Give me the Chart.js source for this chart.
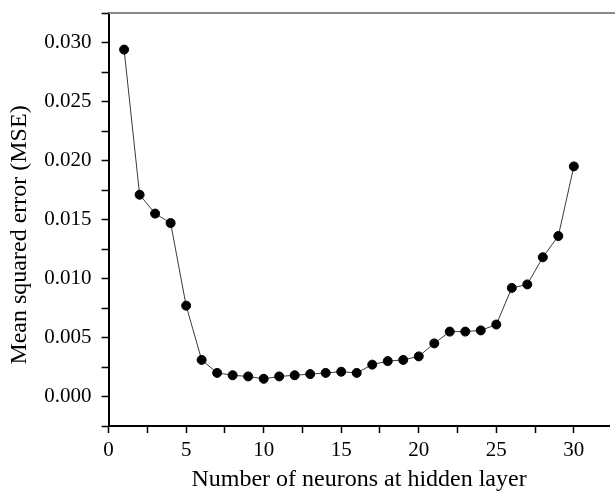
<!DOCTYPE html>
<html>
<head>
<meta charset="utf-8">
<script src="https://cdn.jsdelivr.net/npm/chart.js@4/dist/chart.umd.min.js"></script>
<style>
  html, body { margin: 0; padding: 0; background: #fff; }
  #wrap { width: 615px; height: 494px; }
</style>
</head>
<body>
<div id="wrap"><canvas id="c"></canvas></div>
<script>
// Network size vs. training error
const neurons = [1, 2, 3, 4, 5, 6, 7, 8, 9, 10, 11, 12, 13, 14, 15,
                 16, 17, 18, 19, 20, 21, 22, 23, 24, 25, 26, 27, 28, 29, 30];
const mse = [0.0294, 0.0171, 0.0155, 0.0147, 0.0077, 0.0031, 0.0020, 0.0018, 0.0017, 0.0015,
             0.0017, 0.0018, 0.0019, 0.0020, 0.0021, 0.0020, 0.0027, 0.0030, 0.0031, 0.0034,
             0.0045, 0.0055, 0.0055, 0.0056, 0.0061, 0.0092, 0.0095, 0.0118, 0.0136, 0.0195];
const xTickLabels = [0, 5, 10, 15, 20, 25, 30];
const yTickLabels = [0.000, 0.005, 0.010, 0.015, 0.020, 0.025, 0.030];
const xTitle = 'Number of neurons at hidden layer';
const yTitle = 'Mean squared error (MSE)';

const serif = "'Liberation Serif', 'DejaVu Serif', serif";

const isLabelled = (v, list) => list.some(t => Math.abs(t - v) < 1e-9);

// major + minor ticks every half step, from min up to max
function stepTicks(scale, num, den) {
  const ticks = [];
  const k0 = Math.ceil(scale.min * den / num - 1e-9);
  const k1 = Math.floor(scale.max * den / num + 1e-9);
  for (let k = k0; k <= k1; k++) ticks.push({ value: k * num / den });
  scale.ticks = ticks;
}

// frame line along the top, and the rotated y title
const extras = {
  id: 'extras',
  afterDraw(chart) {
    const { ctx, chartArea } = chart;
    ctx.save();
    ctx.strokeStyle = '#8a8a8a';
    ctx.lineWidth = 2;
    ctx.beginPath();
    ctx.moveTo(chartArea.left, chartArea.top);
    ctx.lineTo(chart.width, chartArea.top);
    ctx.stroke();

    ctx.translate(20, 235);
    ctx.rotate(-Math.PI / 2);
    ctx.fillStyle = '#000';
    ctx.font = '24px ' + serif;
    ctx.textAlign = 'center';
    ctx.textBaseline = 'middle';
    ctx.fillText(yTitle, 0, 0);
    ctx.restore();
  }
};

const tickFont = { family: serif, size: 21 };

new Chart(document.getElementById('c'), {
  type: 'line',
  data: {
    datasets: [{
      data: neurons.map((n, i) => ({ x: n, y: mse[i] })),
      borderColor: '#3a3a3a',
      borderWidth: 1,
      backgroundColor: '#000',
      pointBackgroundColor: '#000',
      pointBorderColor: '#000',
      pointRadius: 4.5,
      pointBorderWidth: 1,
      tension: 0,
      fill: false
    }]
  },
  options: {
    responsive: true,
    maintainAspectRatio: false,
    animation: false,
    layout: { padding: { top: 13, right: 0, bottom: 0, left: 0 } },
    plugins: { legend: { display: false }, tooltip: { enabled: false } },
    scales: {
      x: {
        type: 'linear',
        min: 0,
        max: 32.3,
        afterBuildTicks: s => stepTicks(s, 5, 2),
        afterFit(s) { s.height = 68; s.paddingLeft = 0; s.paddingRight = 0; },
        ticks: {
          autoSkip: false,
          maxRotation: 0,
          padding: 5,
          color: '#000',
          font: tickFont,
          callback: v => isLabelled(v, xTickLabels) ? String(v) : ''
        },
        grid: {
          display: true,
          drawOnChartArea: false,
          drawTicks: true,
          tickLength: 7,
          tickColor: '#000',
          tickWidth: 1.5
        },
        border: { display: true, color: '#000', width: 2 },
        title: {
          display: true,
          text: xTitle,
          color: '#000',
          font: { family: serif, size: 24 },
          padding: { top: 0, bottom: 0 }
        }
      },
      y: {
        type: 'linear',
        min: -0.0025,
        max: 0.0325,
        afterBuildTicks: s => stepTicks(s, 25, 10000),
        afterFit(s) { s.width = 108.6; s.paddingTop = 0; s.paddingBottom = 0; },
        ticks: {
          autoSkip: false,
          padding: 10,
          color: '#000',
          font: tickFont,
          callback: v => isLabelled(v, yTickLabels) ? v.toFixed(3) : ''
        },
        grid: {
          display: true,
          drawOnChartArea: false,
          drawTicks: true,
          tickLength: 7,
          tickColor: '#000',
          tickWidth: 1.5
        },
        border: { display: true, color: '#000', width: 2 }
      }
    }
  },
  plugins: [extras]
});
</script>
</body>
</html>
